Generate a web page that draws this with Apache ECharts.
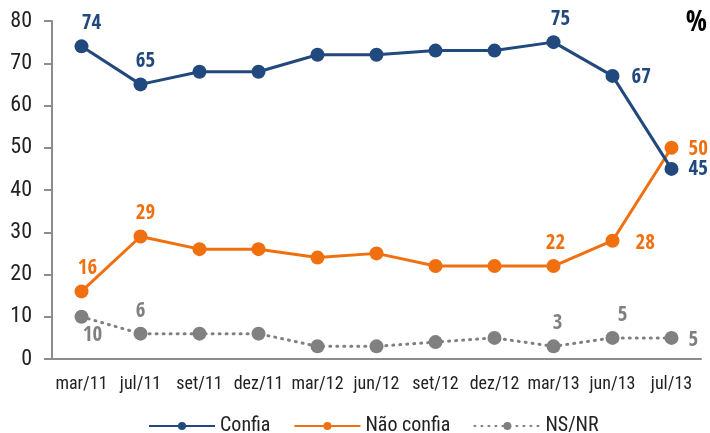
<!DOCTYPE html>
<html>
<head>
<meta charset="utf-8">
<script src="https://cdn.jsdelivr.net/npm/echarts@6/dist/echarts.min.js"></script>
<style>
  html, body { margin: 0; padding: 0; background: #fff; }
  #main { width: 710px; height: 433px; }
</style>
</head>
<body>
<div id="main"></div>
<script>
// 数据
var categories = ['mar/11', 'jul/11', 'set/11', 'dez/11', 'mar/12', 'jun/12', 'set/12', 'dez/12', 'mar/13', 'jun/13', 'jul/13'];
var confia = [74, 65, 68, 68, 72, 72, 73, 73, 75, 67, 45];
var naoConfia = [16, 29, 26, 26, 24, 25, 22, 22, 22, 28, 50];
var nsnr = [10, 6, 6, 6, 3, 3, 4, 5, 3, 5, 5];
var yTicks = [0, 10, 20, 30, 40, 50, 60, 70, 80];

var FONT = '"Roboto Condensed", "Liberation Sans", sans-serif';
var BOLD_FONT = '"Open Sans Condensed", "Roboto Condensed", sans-serif';
var BLUE = '#22497d';
var ORANGE = '#f07010';
var GREY = '#808080';

// 哪些点显示标签, 以及标签位置
function withLabels(values, color, spec) {
  return values.map(function (v, i) {
    var s = spec[i];
    if (!s) return v;
    return {
      value: v,
      label: {
        show: true,
        position: s[0],
        offset: s[1] || [0, 0],
        distance: s[2] || 5,
        color: color,
        fontFamily: BOLD_FONT,
        fontWeight: 'bold',
        fontSize: 21
      }
    };
  });
}

(function () {
  var myChart = echarts.init(document.getElementById('main'));
  var option = {
    animation: false,
    textStyle: { fontFamily: FONT },
    grid: { left: 52, right: 9, top: 21, bottom: 74 },
    graphic: [{
      type: 'text',
      right: 3,
      top: 10,
      style: { text: '%', fontFamily: BOLD_FONT, fontWeight: 'bold', fontSize: 28, fill: '#000' }
    }],
    legend: {
      top: 411,
      left: 143,
      itemWidth: 66,
      itemHeight: 10,
      itemGap: 23,
      textStyle: { color: '#222', fontSize: 20, fontFamily: FONT },
      data: ['Confia', 'Não confia', 'NS/NR']
    },
    xAxis: {
      type: 'category',
      data: categories,
      boundaryGap: true,
      axisLine: { lineStyle: { color: '#8c8c8c', width: 2 } },
      axisTick: { show: false },
      axisLabel: { color: '#222', fontSize: 18, margin: 16, interval: 0 }
    },
    yAxis: {
      type: 'value',
      min: yTicks[0],
      max: yTicks[yTicks.length - 1],
      interval: 10,
      axisLine: { show: true, lineStyle: { color: '#8c8c8c', width: 2 } },
      axisTick: { show: true, length: 8, lineStyle: { color: '#8c8c8c', width: 2 } },
      axisLabel: { color: '#222', fontSize: 22, margin: 20 },
      splitLine: { show: false }
    },
    series: [
      {
        name: 'Confia',
        type: 'line',
        data: withLabels(confia, BLUE, {
          0: ['top', [10, 0]],
          1: ['top', [5, 0]],
          8: ['top', [7, 0]],
          9: ['right', [0, 2], 12],
          10: ['right', [0, 1], 10]
        }),
        symbol: 'circle',
        symbolSize: 14,
        color: BLUE,
        lineStyle: { color: BLUE, width: 3 },
        itemStyle: { color: BLUE },
        z: 3
      },
      {
        name: 'Não confia',
        type: 'line',
        data: withLabels(naoConfia, ORANGE, {
          0: ['top', [6, 0]],
          1: ['top', [5, 0]],
          8: ['top', [2, 0]],
          9: ['right', [0, 3], 16],
          10: ['right', [0, 2], 10]
        }),
        symbol: 'circle',
        symbolSize: 14,
        color: ORANGE,
        lineStyle: { color: ORANGE, width: 3 },
        itemStyle: { color: ORANGE },
        z: 2
      },
      {
        name: 'NS/NR',
        type: 'line',
        data: withLabels(nsnr, GREY, {
          0: ['bottom', [11, -4]],
          1: ['top', [0, 0]],
          8: ['top', [4, 0]],
          9: ['top', [10, 0]],
          10: ['right', [0, 3], 10]
        }),
        symbol: 'circle',
        symbolSize: 14,
        color: GREY,
        lineStyle: { color: GREY, width: 3, type: [1, 6], cap: 'round' },
        itemStyle: { color: GREY },
        z: 1
      }
    ]
  };
  myChart.setOption(option);
})();
</script>
</body>
</html>
